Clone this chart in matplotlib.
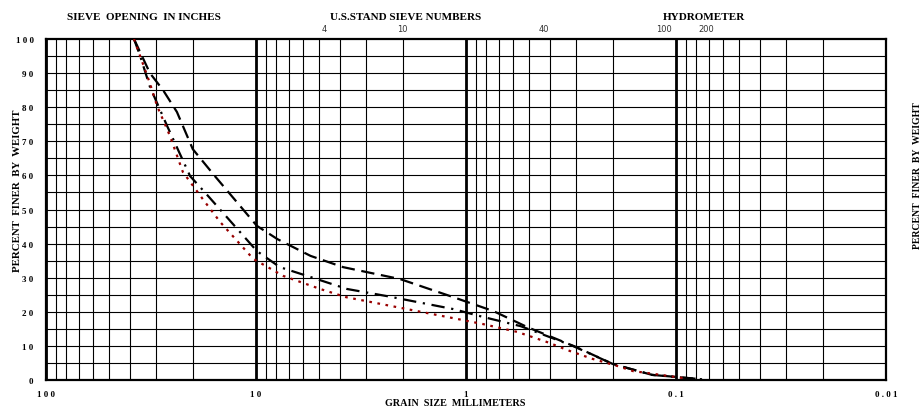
import numpy as np
import matplotlib
matplotlib.use('Agg')
import matplotlib.pyplot as plt
from matplotlib.ticker import FixedLocator, NullFormatter

# grain size (mm) and percent finer for the three samples
size_a = [38.1, 32.0, 27.7, 23.8, 20.0, 15.7, 9.9, 7.9, 5.5, 3.85, 2.06, 1.15, 0.74, 0.51, 0.37, 0.30, 0.20, 0.13, 0.10, 0.075]
pct_a = [100, 90.0, 85.0, 78.6, 67.7, 59.8, 45.2, 41.3, 36.4, 33.1, 29.6, 24.3, 20.2, 15.5, 12.0, 9.7, 4.7, 1.5, 0.9, 0.2]

size_b = [38.1, 35.6, 32.0, 26.5, 20.6, 17.5, 9.9, 7.7, 5.5, 3.69, 2.38, 1.15, 0.83, 0.55, 0.40, 0.31, 0.20, 0.13, 0.075]
pct_b = [100, 95.0, 86.0, 74.5, 59.8, 55.0, 37.8, 33.1, 30.2, 26.7, 24.6, 20.8, 18.5, 15.8, 12.6, 10.0, 4.7, 1.5, 0.2]

size_c = [38.1, 32.0, 29.6, 25.7, 22.3, 17.9, 14.8, 10.3, 7.4, 4.95, 3.73, 1.1, 0.83, 0.57, 0.41, 0.32, 0.25, 0.19, 0.16, 0.135, 0.093]
pct_c = [100, 87.0, 80.4, 71.6, 61.0, 53.0, 46.3, 35.5, 30.5, 26.7, 24.3, 17.9, 16.4, 14.1, 11.1, 8.5, 6.2, 4.1, 2.6, 2.0, 0.6]

decades = [100, 10, 1, 0.1, 0.01]
decade_labels = ['1 0 0', '1 0', '1', '0 . 1', '0 . 0 1']
sieve_names = ['4', '10', '40', '100', '200']
sieve_pos = [4.75, 2.0, 0.425, 0.114, 0.072]
y_ticks = list(range(0, 101, 10))

fig = plt.figure(figsize=(9.24, 4.10), dpi=100)
ax = fig.add_axes([46 / 924, 1 - 381 / 410, (886 - 46) / 924, (381 - 40) / 410])

ax.set_xscale('log')
ax.set_xlim(100, 0.01)
ax.set_ylim(0, 100)

# grid
minor = [m * d for d in [10, 1, 0.1, 0.01] for m in range(2, 10)]
for v in minor:
    ax.axvline(v, color='black', lw=0.8, zorder=1)
for v in decades:
    ax.axvline(v, color='black', lw=2.0, zorder=1)
for h in range(5, 100, 5):
    ax.axhline(h, color='black', lw=0.8, zorder=1)

ax.plot(size_a, pct_a, color='black', ls=(0, (6, 3)), lw=1.6, zorder=3)
ax.plot(size_b, pct_b, color='black', ls=(0, (6, 3, 1, 3)), lw=1.6, zorder=3)
ax.plot(size_c, pct_c, color='#990000', ls=(0, (1.2, 2.5)), lw=1.6, zorder=4)

for s in ax.spines.values():
    s.set_linewidth(1.6)

serif = 'Liberation Serif'
ax.xaxis.set_major_locator(FixedLocator(decades))
ax.xaxis.set_minor_formatter(NullFormatter())
ax.set_xticks(decades)
ax.set_xticklabels(decade_labels, fontfamily=serif, fontweight='bold', fontsize=6.5)
ax.set_yticks(y_ticks)
ax.set_yticklabels([' '.join(str(t)) for t in y_ticks], fontfamily=serif, fontweight='bold', fontsize=6.5)
ax.tick_params(axis='both', which='both', length=0)
ax.tick_params(axis='y', pad=9)
ax.tick_params(axis='x', pad=7)

fig.text(455 / 924, 1 - 404 / 410, 'GRAIN  SIZE  MILLIMETERS', ha='center', va='center',
         fontfamily=serif, fontweight='bold', fontsize=7.3)

fig.text(18 / 924, 1 - 191 / 410, 'PERCENT  FINER  BY  WEIGHT', rotation=90, ha='center', va='center',
         fontfamily=serif, fontweight='bold', fontsize=7.8)
fig.text(918 / 924, 1 - 176 / 410, 'PERCENT  FINER  BY  WEIGHT', rotation=90, ha='center', va='center',
         fontfamily=serif, fontweight='bold', fontsize=7)

top = ax.get_xaxis_transform()
fig.text(144 / 924, 1 - 17 / 410, 'SIEVE  OPENING  IN INCHES', ha='center', va='center',
         fontfamily=serif, fontweight='bold', fontsize=8)
fig.text(406 / 924, 1 - 17 / 410, 'U.S.STAND SIEVE NUMBERS', ha='center', va='center',
         fontfamily=serif, fontweight='bold', fontsize=8)
fig.text(704 / 924, 1 - 17 / 410, 'HYDROMETER', ha='center', va='center',
         fontfamily=serif, fontweight='bold', fontsize=8)
for name, pos in zip(sieve_names, sieve_pos):
    ax.text(pos, 1.032, name, transform=top, ha='center', va='center', fontsize=6, color='#333333')

fig.savefig('out.png', dpi=100)
